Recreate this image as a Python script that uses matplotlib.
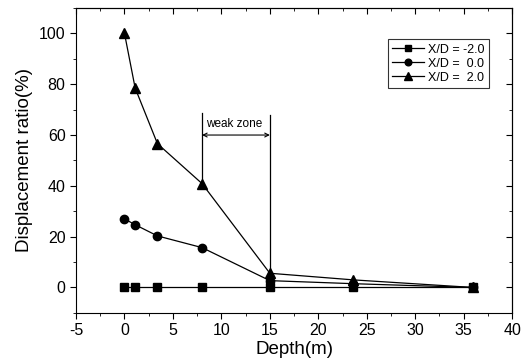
import matplotlib
matplotlib.use("Agg")
import matplotlib.pyplot as plt
from matplotlib.ticker import MultipleLocator

plt.rcParams['font.family'] = ['Liberation Sans', 'DejaVu Sans']
plt.rcParams['axes.unicode_minus'] = False

# depth positions (m)
depth = [0, 1.1, 3.4, 8, 15, 23.6, 36]
# displacement ratio (%) for each X/D
ratio_m2 = [0, 0, 0, 0, 0, 0, 0]
ratio_0 = [27.0, 24.7, 20.3, 15.7, 2.7, 1.5, 0]
ratio_2 = [100, 78.5, 56.6, 40.9, 5.6, 3.0, 0]
labels = ["X/D = -2.0", "X/D =  0.0", "X/D =  2.0"]

# weak zone bounds
weak_start = 8
weak_end = 15

fig = plt.figure(figsize=(5.28, 3.63), dpi=100)
ax = fig.add_axes([0.144, 0.138, 0.826, 0.84])

ax.plot(depth, ratio_m2, '-s', color='black', lw=0.9, ms=5.5, label=labels[0])
ax.plot(depth, ratio_0, '-o', color='black', lw=0.9, ms=6, label=labels[1])
ax.plot(depth, ratio_2, '-^', color='black', lw=0.9, ms=6.5, label=labels[2])

# weak zone markers
ax.plot([weak_start, weak_start], [41, 68.5], color='black', lw=0.9)
ax.plot([weak_end, weak_end], [6, 68], color='black', lw=0.9)
ax.annotate('', xy=(weak_start, 60), xytext=(weak_end, 60),
            arrowprops=dict(arrowstyle='<->', color='black', lw=0.8,
                            shrinkA=0, shrinkB=0, mutation_scale=7))
ax.text(weak_start + 0.4, 64.5, 'weak zone', fontsize=8.5, va='center', ha='left')

ax.set_xlim(-5, 40)
ax.set_ylim(-10, 110)
ax.xaxis.set_major_locator(MultipleLocator(5))
ax.xaxis.set_minor_locator(MultipleLocator(2.5))
ax.yaxis.set_major_locator(MultipleLocator(20))
ax.yaxis.set_minor_locator(MultipleLocator(10))
ax.tick_params(axis='both', which='both', direction='out', labelsize=11.5)
ax.tick_params(which='major', length=4)
ax.tick_params(which='minor', length=2.5)

sx = ax.secondary_xaxis('top')
sx.xaxis.set_major_locator(MultipleLocator(5))
sx.xaxis.set_minor_locator(MultipleLocator(2.5))
sx.tick_params(which='both', direction='in', labeltop=False)
sx.tick_params(which='major', length=4)
sx.tick_params(which='minor', length=2.5)
sy = ax.secondary_yaxis('right')
sy.yaxis.set_major_locator(MultipleLocator(20))
sy.yaxis.set_minor_locator(MultipleLocator(10))
sy.tick_params(which='both', direction='in', labelright=False)
sy.tick_params(which='major', length=4)
sy.tick_params(which='minor', length=2.5)

ax.set_xlabel('Depth(m)', fontsize=13.5, labelpad=2)
ax.set_ylabel('Displacement ratio(%)', fontsize=13.5, labelpad=4)

leg = ax.legend(loc='upper right', bbox_to_anchor=(0.947, 0.897), fontsize=9,
                frameon=True, fancybox=False, edgecolor='black', handlelength=2.6,
                borderpad=0.35, labelspacing=0.15, handletextpad=0.3,
                markerscale=0.8, borderaxespad=0)
leg.get_frame().set_linewidth(0.8)

fig.savefig('out.png', dpi=100)
